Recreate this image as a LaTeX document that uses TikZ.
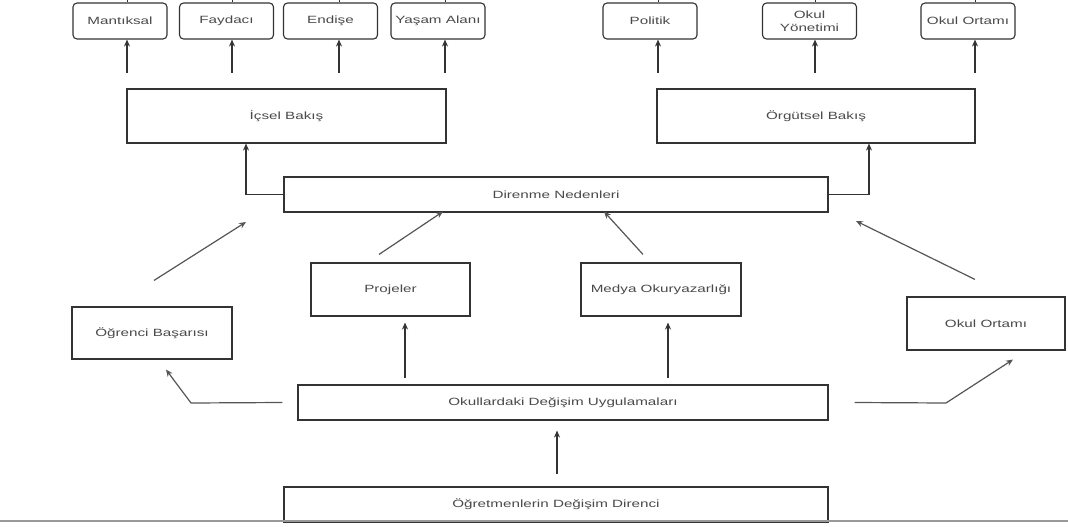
\documentclass[tikz,border=0pt]{standalone}
\usepackage{fontspec}
\setmainfont{Liberation Sans}[FakeStretch=1.45]
\usepackage{tikz}
\usetikzlibrary{arrows.meta}
\definecolor{boxline}{HTML}{333333}
\definecolor{boxtext}{HTML}{4A4A4A}
\definecolor{diagline}{HTML}{555555}
\tikzset{box style/.style={
		draw=boxline,
		line width=1.1pt,
		fill=white,
		text=boxtext,
		rectangle,
		align=center,
		inner sep=0pt,
		font=\fontsize{10.5}{13}\selectfont,
	},
	top style/.style={
		box style,
		rounded corners=4pt,
		minimum width=94pt,
		minimum height=36pt,
	},
	arrow style/.style={
		#1,
		line width=1.2pt,
		-{Stealth[length=7pt,width=6pt]},
	}
}

\begin{document}
\begin{tikzpicture}[x=1pt,y=-1pt]
	\useasboundingbox (0,0) rectangle (1068,527);
	\node[top style] (Mantiksal) at (120,21) {Mantıksal};
	\node[top style] (Faydaci) at (226.5,21) {Faydacı};
	\node[top style] (Endise) at (330.5,21) {Endişe};
	\node[top style] (Yasam) at (438,21) {Yaşam Alanı};
	\node[top style] (Politik) at (650,21) {Politik};
	\node[top style] (Yonetim) at (809.5,21) {Okul\\Yönetimi};
	\node[top style] (Ortam) at (968,21) {Okul Ortamı};

	\node[box style, minimum width=319pt, minimum height=54pt] (Icsel) at (286.5,116) {İçsel Bakış};
	\node[box style, minimum width=318pt, minimum height=54pt] (Orgutsel) at (816,116) {Örgütsel Bakış};
	\node[box style, minimum width=544pt, minimum height=35pt] (Direnme) at (556,194.5) {Direnme Nedenleri};

	\node[box style, minimum width=160pt, minimum height=52pt] (Basari) at (152,333) {Öğrenci Başarısı};
	\node[box style, minimum width=159pt, minimum height=53pt] (Projeler) at (390.5,289.5) {Projeler};
	\node[box style, minimum width=160pt, minimum height=53pt] (Medya) at (661,289.5) {Medya Okuryazarlığı};
	\node[box style, minimum width=158pt, minimum height=53pt] (OkulOrtam) at (986,323.5) {Okul Ortamı};

	\node[box style, minimum width=530pt, minimum height=35pt] (Uygulama) at (563,402.5) {Okullardaki Değişim Uygulamaları};
	\node[box style, minimum width=544pt, minimum height=35pt] (Direnc) at (556,504.5) {Öğretmenlerin Değişim Direnci};

	\draw[diagline!60, line width=1.2pt] (0,521) -- (1068,521);

	\foreach \n/\x in {Mantiksal/127,Faydaci/232,Endise/339,Yasam/445,Politik/658,Yonetim/815,Ortam/975}{
		\coordinate (\n0) at (\x,73);
		\draw[arrow style=boxline] (\n0) -- (\n.south -| \n0);
		\draw[boxline, line width=1pt] (\n.north -| \n0) -- ++(0,-3);
	}

	\draw[arrow style=boxline] (Direnme.west) -| ([xshift=-40.5pt]Icsel.south);
	\draw[arrow style=boxline] (Direnme.east) -| ([xshift=53pt]Orgutsel.south);

	\coordinate (Basari1) at (246,222);
	\draw[arrow style=diagline] ([xshift=2pt,yshift=26pt]Basari.north) -- (Basari1);
	\draw[arrow style=diagline] ([xshift=-11.5pt,yshift=8pt]Projeler.north) -- ([xshift=-113pt,yshift=1pt]Direnme.south);
	\draw[arrow style=diagline] ([xshift=-18pt,yshift=8pt]Medya.north) -- ([xshift=48pt,yshift=1pt]Direnme.south);
	\coordinate (OkulOrtam1) at (856,221);
	\draw[arrow style=diagline] ([xshift=-11pt,yshift=17pt]OkulOrtam.north) -- (OkulOrtam1);

	\coordinate (Projeler0) at (405,378);
	\draw[arrow style=boxline] (Projeler0) -- ([yshift=-6pt]Projeler.south -| Projeler0);
	\coordinate (Medya0) at (668,378);
	\draw[arrow style=boxline] (Medya0) -- ([yshift=-6pt]Medya.south -| Medya0);
	\coordinate (Uygulama0) at (557,474);
	\draw[arrow style=boxline] (Uygulama0) -- ([yshift=-10pt]Uygulama.south -| Uygulama0);

	\draw[arrow style=diagline] ([xshift=-15pt]Uygulama.west) -- (191,403) -- ([xshift=14pt,yshift=-10pt]Basari.south);
	\draw[arrow style=diagline] ([xshift=26pt]Uygulama.east) -- (946,403) -- ([xshift=27pt,yshift=-9pt]OkulOrtam.south);
\end{tikzpicture}
\end{document}
